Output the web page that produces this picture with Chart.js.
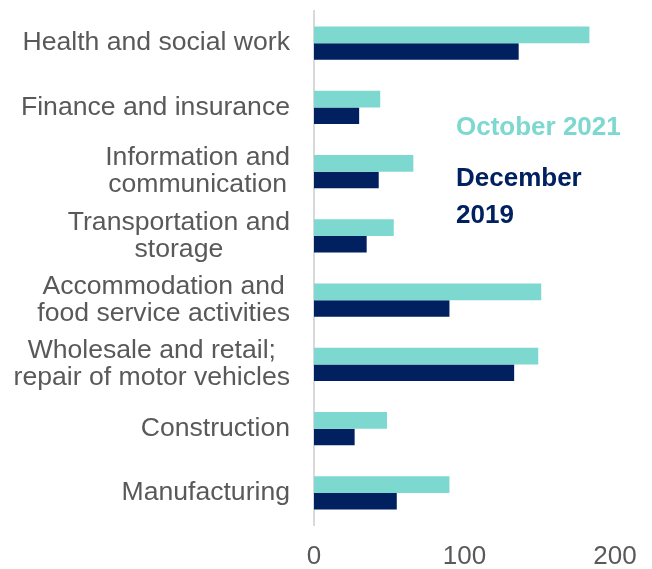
<!DOCTYPE html>
<html>
<head>
<meta charset="utf-8">
<script src="https://cdn.jsdelivr.net/npm/chart.js@4"></script>
<style>
  html, body { margin: 0; padding: 0; background: #fff; }
  #wrap { position: relative; width: 652px; height: 569px; }
  .key { position: absolute; left: 456px; font-family: "Liberation Sans", Arial, sans-serif; font-weight: bold; font-size: 26px; line-height: 37px; }
</style>
</head>
<body>
<div id="wrap">
  <canvas id="myChart" width="652" height="569"></canvas>
  <div class="key" style="top:108px;color:#7dd8d0">October 2021</div>
  <div class="key" style="top:159px;color:#002060">December<br>2019</div>
</div>
<script>
const labels = [
  "Health and social work",
  "Finance and insurance",
  ["Information and", "communication"],
  ["Transportation and", "storage"],
  ["Accommodation and", "food service activities"],
  ["Wholesale and retail;", "repair of motor vehicles"],
  "Construction",
  "Manufacturing"
];
const october2021 = [183, 44, 66, 53, 151, 149, 48.5, 90];
const december2019 = [136, 30, 43, 35, 90, 133, 27, 55];
const xTicks = [0, 100, 200];

const colors = {
  teal: "#7dd8d0",
  navy: "#002060",
  text: "#595959",
  axis: "#d9d9d9"
};

// category labels: block right-aligned to the axis, lines centred inside the block
const centredLabels = {
  id: "centredLabels",
  afterDraw(chart) {
    const c = chart.ctx;
    const y = chart.scales.y;
    const right = y.right - 24;
    const lh = 27;
    c.save();
    c.font = "26.6px 'Liberation Sans', Arial, sans-serif";
    c.fillStyle = colors.text;
    c.textAlign = "center";
    c.textBaseline = "middle";
    chart.data.labels.forEach((lab, i) => {
      const lines = Array.isArray(lab) ? lab : [lab];
      const w = Math.max(...lines.map(l => c.measureText(l).width));
      const cx = right - w / 2;
      const cy = y.getPixelForTick(i);
      lines.forEach((l, j) => {
        c.fillText(l, cx, cy + (j - (lines.length - 1) / 2) * lh);
      });
    });
    c.restore();
  }
};

const ctx = document.getElementById("myChart").getContext("2d");
new Chart(ctx, {
  type: "bar",
  data: {
    labels: labels,
    datasets: [
      { label: "October 2021", data: october2021, backgroundColor: colors.teal, categoryPercentage: 0.52, barPercentage: 1 },
      { label: "December 2019", data: december2019, backgroundColor: colors.navy, categoryPercentage: 0.52, barPercentage: 1 }
    ]
  },
  plugins: [centredLabels],
  options: {
    indexAxis: "y",
    responsive: false,
    animation: false,
    layout: { padding: { left: 0, right: 37, top: 11, bottom: 0 } },
    plugins: { legend: { display: false }, tooltip: { enabled: false } },
    scales: {
      x: {
        min: 0,
        max: 200,
        grid: { display: false },
        border: { display: false },
        afterBuildTicks: s => { s.ticks = xTicks.map(v => ({ value: v })); },
        afterFit: s => { s.height = 44; },
        ticks: {
          padding: 8,
          color: colors.text,
          font: { family: "'Liberation Sans', Arial, sans-serif", size: 26 }
        }
      },
      y: {
        grid: { display: false },
        border: { display: true, color: colors.axis, width: 2 },
        afterFit: s => { s.width = 314; s.paddingTop = 0; s.paddingBottom = 0; },
        ticks: { display: false }
      }
    }
  }
});
</script>
</body>
</html>
